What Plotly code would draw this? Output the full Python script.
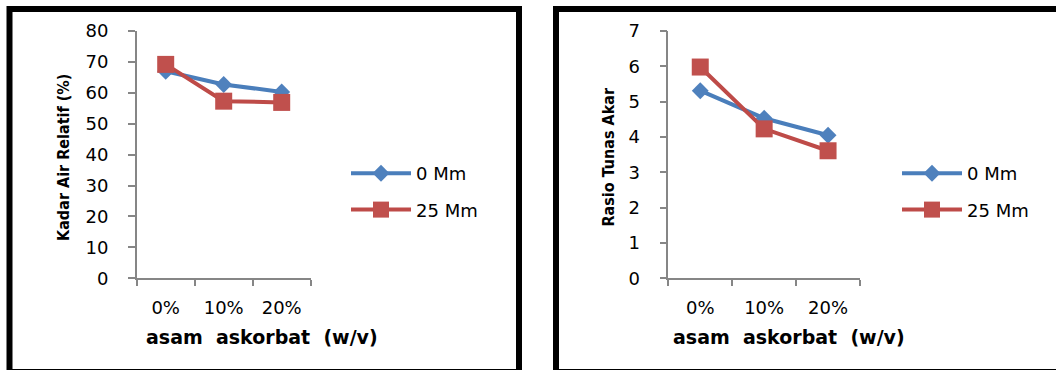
import plotly.graph_objects as go

# Data
categories = ["0%", "10%", "20%"]
series_names = ["0 Mm", "25 Mm"]
kadar_air_0mm = [67.0, 62.7, 60.3]
kadar_air_25mm = [69.2, 57.3, 56.9]
rasio_0mm = [5.31, 4.53, 4.05]
rasio_25mm = [5.98, 4.23, 3.61]

W, H = 1056, 370
BLUE_LINE, BLUE_MARK = "#4A7EBB", "#4F81BD"
RED_LINE, RED_MARK = "#BE4B48", "#C0504D"
AXIS_GRAY = "#868686"
TICK_FONT = dict(family="DejaVu Sans", size=18, color="black")


def px_x(v):
    return v / W


def px_y(v):
    return 1 - v / H


fig = go.Figure()

panels = [
    dict(xa="x", ya="y", legend="legend", vals=(kadar_air_0mm, kadar_air_25mm)),
    dict(xa="x2", ya="y2", legend="legend2", vals=(rasio_0mm, rasio_25mm)),
]
for p in panels:
    for name, vals, lc, mc, sym, ms, grp in [
        (series_names[0], p["vals"][0], BLUE_LINE, BLUE_MARK, "diamond", 13, "a"),
        (series_names[1], p["vals"][1], RED_LINE, RED_MARK, "square", 17, "b"),
    ]:
        fig.add_trace(go.Scatter(
            x=categories, y=vals, name=name, mode="lines+markers",
            xaxis=p["xa"], yaxis=p["ya"], legend=p["legend"],
            legendgroup=p["legend"] + grp,
            line=dict(color=lc, width=4),
            marker=dict(symbol=sym, size=ms, color=mc, line=dict(width=0)),
            cliponaxis=False,
        ))

common_x = dict(
    type="category", range=[-0.5, 2.5], tickson="boundaries", automargin=False,
    showline=True, linecolor=AXIS_GRAY, linewidth=1.5,
    ticks="outside", ticklen=6, tickwidth=1.5, tickcolor=AXIS_GRAY,
    showgrid=False, zeroline=False, tickfont=TICK_FONT, ticklabelstandoff=12,
)
common_y = dict(
    automargin=False,
    showline=True, linecolor=AXIS_GRAY, linewidth=1.5,
    ticks="outside", ticklen=7, tickwidth=1.5, tickcolor=AXIS_GRAY,
    showgrid=False, zeroline=False, tickfont=TICK_FONT, ticklabelstandoff=16,
)
legend_common = dict(
    xanchor="left", yanchor="top",
    font=dict(family="DejaVu Sans", size=18, color="black"),
    itemwidth=60, tracegroupgap=10, bgcolor="rgba(0,0,0,0)",
)

fig.update_layout(
    template="none",
    width=W, height=H, margin=dict(l=0, r=0, t=0, b=0, pad=0), autosize=False,
    paper_bgcolor="white", plot_bgcolor="white",
    xaxis=dict(common_x, domain=[px_x(136.7), px_x(310.7)], anchor="y"),
    yaxis=dict(common_y, domain=[px_y(278.3), px_y(31)], range=[0, 80], dtick=10, anchor="x"),
    xaxis2=dict(common_x, domain=[px_x(668.3), px_x(860)], anchor="y2"),
    yaxis2=dict(common_y, domain=[px_y(278.3), px_y(31)], range=[0, 7], dtick=1, anchor="x2"),
    legend=dict(legend_common, x=px_x(346), y=px_y(155)),
    legend2=dict(legend_common, x=px_x(897), y=px_y(155)),
)

# Panel frames
fig.add_shape(type="rect", xref="paper", yref="paper",
              x0=px_x(9.5), x1=px_x(519), y0=px_y(372), y1=px_y(9),
              line=dict(color="black", width=6), fillcolor="rgba(0,0,0,0)")
fig.add_shape(type="rect", xref="paper", yref="paper",
              x0=px_x(556), x1=px_x(1075), y0=px_y(372), y1=px_y(9),
              line=dict(color="black", width=6), fillcolor="rgba(0,0,0,0)")

# Axis titles
ytitle_font = dict(family="Liberation Sans Narrow, DejaVu Sans Condensed", size=16,
                   color="black", weight="bold")
xtitle_font = dict(family="DejaVu Sans", size=19, color="black", weight="bold")
xtitle = "asam\u00a0\u00a0askorbat\u00a0\u00a0(w/v)"
title_pos = dict(xref="paper", yref="paper", showarrow=False,
                 xanchor="center", yanchor="middle")
fig.add_annotation(text="Kadar Air Relatif (%)", textangle=-90,
                   x=px_x(63), y=px_y(158), font=ytitle_font, **title_pos)
fig.add_annotation(text="Rasio Tunas Akar", textangle=-90,
                   x=px_x(608), y=px_y(157.5), font=ytitle_font, **title_pos)
fig.add_annotation(text=xtitle, x=px_x(262), y=px_y(337), font=xtitle_font, **title_pos)
fig.add_annotation(text=xtitle, x=px_x(789), y=px_y(337), font=xtitle_font, **title_pos)

fig.write_html("out.html")
